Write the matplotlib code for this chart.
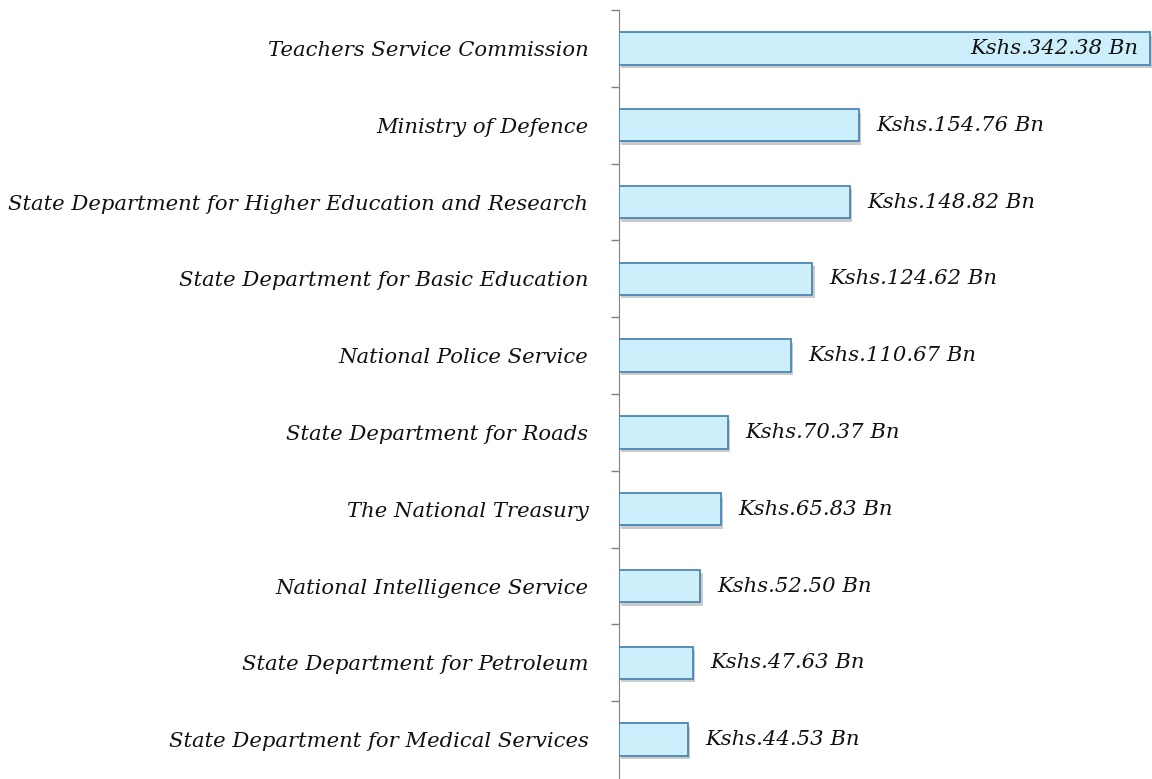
import matplotlib.pyplot as plt
import matplotlib.patheffects as pe
import numpy as np

departments = [
    "Teachers Service Commission",
    "Ministry of Defence",
    "State Department for Higher Education and Research",
    "State Department for Basic Education",
    "National Police Service",
    "State Department for Roads",
    "The National Treasury",
    "National Intelligence Service",
    "State Department for Petroleum",
    "State Department for Medical Services",
]
values = [342.38, 154.76, 148.82, 124.62, 110.67, 70.37, 65.83, 52.50, 47.63, 44.53]

fig = plt.figure(figsize=(11.52, 7.79), dpi=100)
ax = fig.add_axes([619 / 1152, 0.0, 1 - 619 / 1152, 1 - 10 / 779])

y = np.arange(len(values))
bars = ax.barh(y, values, height=0.42, color='#cdeffb', edgecolor='#4a86b5',
               linewidth=1.3, zorder=3)
for b in bars:
    b.set_path_effects([pe.SimplePatchShadow(offset=(1.5, -2.5), shadow_rgbFace='#999999', alpha=0.5),
                        pe.Normal()])

ax.set_ylim(len(values) - 0.5 + 0.013, -0.5)
ax.set_xlim(0, 343.4)

ax.set_yticks(y)
ax.set_yticklabels(departments, fontsize=15.2, fontstyle='italic', family='DejaVu Serif',
                   color='#111111')
ax.tick_params(axis='y', which='major', length=0, pad=22)
ax.set_yticks(np.arange(len(values)) - 0.5, minor=True)
ax.tick_params(axis='y', which='minor', length=6, color='#808080', width=1)
ax.set_xticks([])

for s in ['top', 'right', 'bottom']:
    ax.spines[s].set_visible(False)
ax.spines['left'].set_color('#808080')

for i, v in enumerate(values):
    txt = "Kshs.%.2f Bn" % v
    if i == 0:
        ax.text(v - 8, i, txt, va='center', ha='right', fontsize=15.2, fontstyle='italic',
                family='DejaVu Serif', color='#111111', zorder=5)
    else:
        ax.text(v + 11, i, txt, va='center', ha='left', fontsize=15.2, fontstyle='italic',
                family='DejaVu Serif', color='#111111', zorder=5)

fig.savefig('out.png', dpi=100)
